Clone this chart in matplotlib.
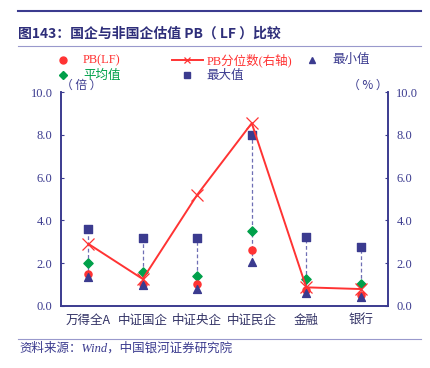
import matplotlib.pyplot as plt
import matplotlib.lines as mlines
import numpy as np

plt.rcParams['font.family'] = ['Liberation Serif', 'Noto Sans CJK SC', 'DejaVu Sans']
cjk = ['Noto Sans CJK SC', 'DejaVu Sans']

categories = ['万得全A', '中证国企', '中证央企', '中证民企', '金融', '银行']
pb_lf = [1.5, 1.02, 1.0, 2.6, 0.72, 0.5]
pb_mean = [2.0, 1.57, 1.4, 3.5, 1.25, 1.03]
pb_min = [1.36, 0.98, 0.8, 2.05, 0.58, 0.42]
pb_max = [3.6, 3.15, 3.15, 8.0, 3.2, 2.76]
pb_pct = [2.9, 1.25, 5.2, 8.55, 0.86, 0.78]

navy = '#3b3b8f'
red = '#ff3333'
green = '#00a04a'

fig = plt.figure(figsize=(4.3, 3.68), dpi=100)
ax = fig.add_axes([0.1419, 0.1693, 0.7604, 0.58])
ax2 = ax.twinx()

x = np.arange(len(categories)) + 0.5
for xi, lo, hi in zip(x, pb_min, pb_max):
    ax.plot([xi, xi], [lo, hi], color='#6f6fb5', lw=0.9, ls=(0, (3, 2)), zorder=1)
ax.scatter(x, pb_max, marker='s', s=26, color=navy, zorder=3)
ax.scatter(x, pb_mean, marker='D', s=22, color=green, zorder=4)
ax.scatter(x, pb_lf, marker='o', s=26, color=red, zorder=4)
ax.scatter(x, pb_min, marker='^', s=32, color=navy, zorder=5)
ax2.plot(x, pb_pct, color=red, lw=1.4, marker='x', ms=9, mew=0.9, zorder=6)

for a in (ax, ax2):
    a.set_xlim(0, 6)
    a.set_ylim(0, 10)
    a.set_yticks(np.arange(0, 10.1, 2))
    a.set_yticklabels([f'{v:.1f}' for v in np.arange(0, 10.1, 2)])
    a.tick_params(axis='y', direction='in', length=2, color=navy, labelcolor=navy, labelsize=9, pad=6)
    a.spines['top'].set_visible(False)
    for s in ('left', 'right', 'bottom'):
        a.spines[s].set_color(navy)
        a.spines[s].set_linewidth(1.2)
ax.set_xticks(x)
ax.set_xticklabels(categories, fontsize=9, color='#333366', family=cjk)
ax.tick_params(axis='x', length=0, pad=6)

ax.text(0.0, 1.0, '（ 倍 ）', transform=ax.transAxes, fontsize=8.5, color=navy, ha='left', va='bottom', family=cjk)
ax.text(1.0, 1.0, '（ % ）', transform=ax.transAxes, fontsize=8.5, color=navy, ha='right', va='bottom', family=cjk)

# legend, placed by hand in figure coordinates
r1, r2 = 0.837, 0.796
def legend_mark(xs, y, **kw):
    fig.add_artist(mlines.Line2D(xs, [y] * len(xs), transform=fig.transFigure, **kw))

legend_mark([0.1465], r1, ls='none', marker='o', ms=5, color=red)
legend_mark([0.1465], r2, ls='none', marker='D', ms=4.5, color=green)
legend_mark([0.40, 0.472], r1, color=red, lw=1.4)
legend_mark([0.436], r1, ls='none', marker='x', ms=5, mew=0.9, color=red)
legend_mark([0.436], r2, ls='none', marker='s', ms=5, color=navy)
legend_mark([0.726], r1, ls='none', marker='^', ms=5, color=navy)
fig.text(0.193, r1, 'PB(LF)', fontsize=9, color=red, va='center')
fig.text(0.193, r2, '平均值', fontsize=9, color=green, va='center', family=cjk)
fig.text(0.481, r1, 'PB分位数(右轴)', fontsize=9, color=red, va='center')
fig.text(0.481, r2, '最大值', fontsize=9, color=navy, va='center', family=cjk)
fig.text(0.772, r1, '最小值', fontsize=9, color=navy, va='center', family=cjk)

fig.text(0.042, 0.91, '图143：国企与非国企估值 PB（ LF ）比较', fontsize=10, fontweight='bold',
         color='#2e2e7a', va='center', family=cjk)
fig.add_artist(mlines.Line2D([0.042, 0.98], [0.970, 0.970], color=navy, lw=1.5))
fig.add_artist(mlines.Line2D([0.042, 0.98], [0.876, 0.876], color='#9999cc', lw=0.8))
fig.add_artist(mlines.Line2D([0.042, 0.98], [0.078, 0.078], color='#9999cc', lw=0.8))
fig.text(0.045, 0.052, '资料来源：Wind，中国银河证券研究院', fontsize=9, style='italic', color=navy, va='center')

fig.savefig('out.png', dpi=100)
